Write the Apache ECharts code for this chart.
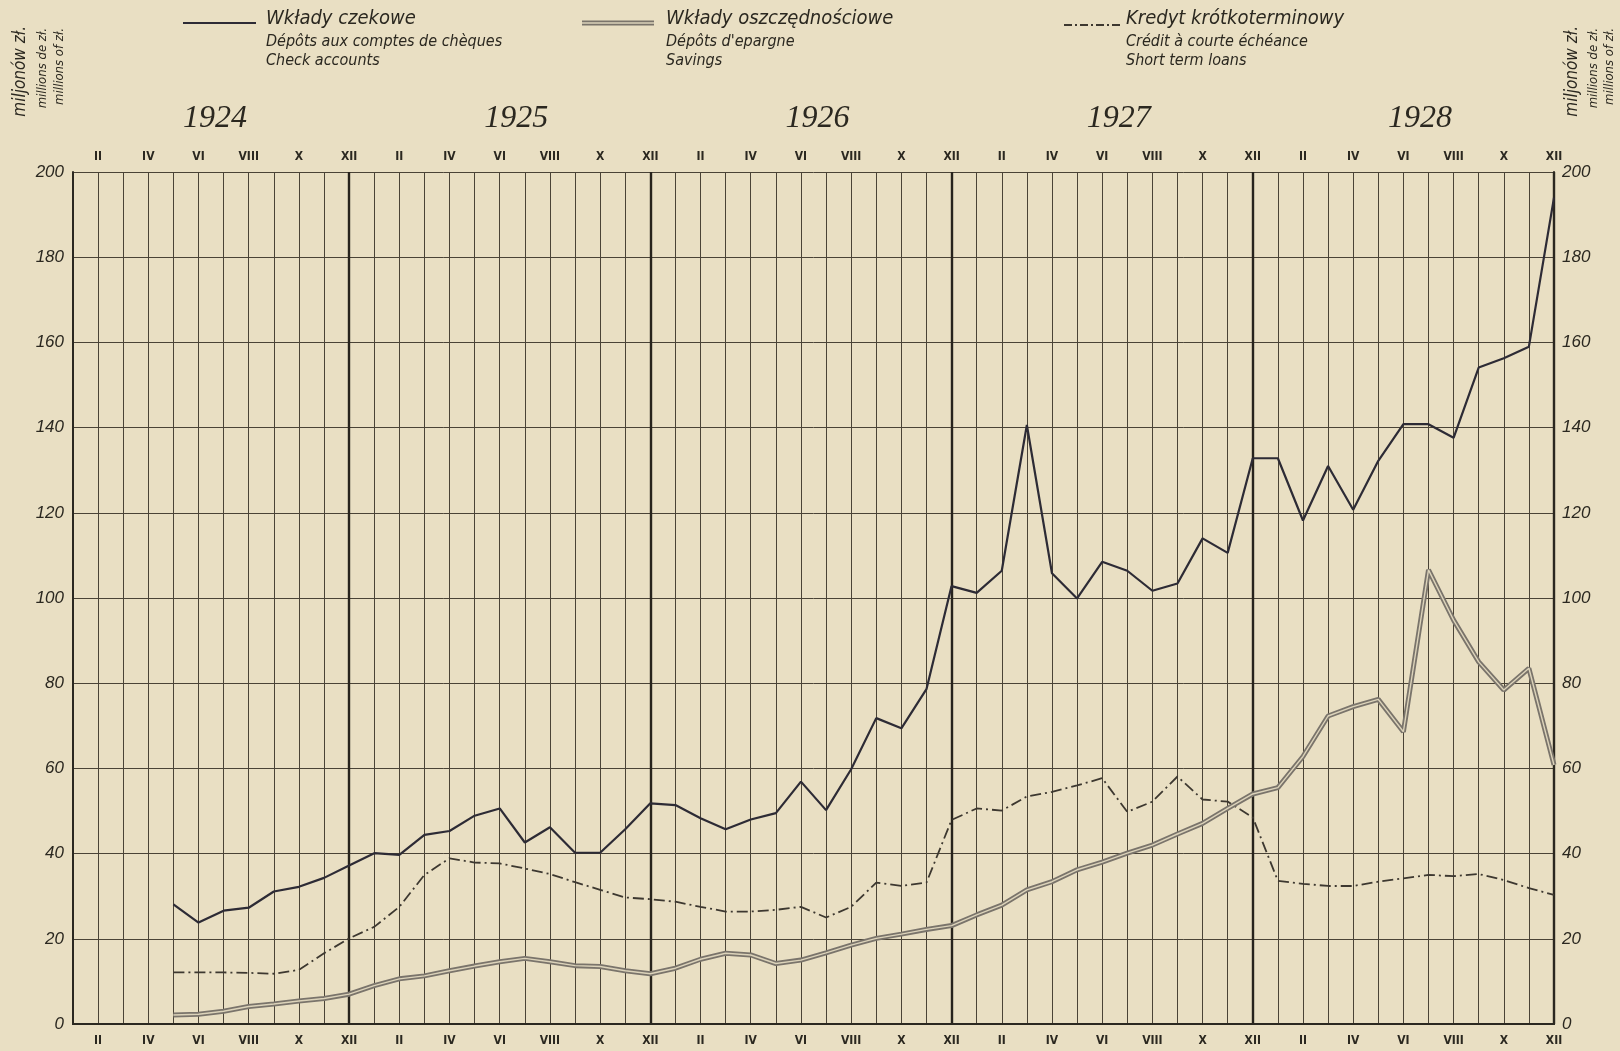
<!DOCTYPE html>
<html>
<head>
<meta charset="utf-8">
<script src="https://cdn.jsdelivr.net/npm/echarts@6/dist/echarts.min.js"></script>
<style>
  html, body { margin: 0; padding: 0; background: #e9dfc3; }
  #chart { width: 1620px; height: 1051px; }
</style>
</head>
<body>
<div id="chart"></div>
<script>
// months of each year, years shown above the grid
const romanMonths = ['I', 'II', 'III', 'IV', 'V', 'VI', 'VII', 'VIII', 'IX', 'X', 'XI', 'XII'];
const years = ['1924', '1925', '1926', '1927', '1928'];
const categories = [];
years.forEach(y => romanMonths.forEach(m => categories.push(y + ' ' + m)));

// millions of zł, Jan 1924 .. Dec 1928
const checkAccounts = [
  null, null, null, null, 28.1, 23.8, 26.6, 27.3, 31.1, 32.2, 34.3, 37.2,
  40.1, 39.7, 44.4, 45.3, 48.9, 50.6, 42.6, 46.2, 40.2, 40.2, 45.7, 51.8,
  51.4, 48.3, 45.7, 48.0, 49.5, 56.9, 50.2, 59.8, 71.8, 69.4, 78.6, 102.8,
  101.2, 106.4, 140.6, 105.8, 99.9, 108.5, 106.4, 101.7, 103.4, 114.0, 110.6, 132.8,
  132.8, 118.2, 131.0, 120.7, 132.2, 140.8, 140.8, 137.6, 154.1, 156.3, 159.0, 194.0
];
const savings = [
  null, null, null, null, 2.1, 2.3, 3.0, 4.1, 4.7, 5.4, 6.0, 7.0,
  9.0, 10.6, 11.3, 12.5, 13.6, 14.6, 15.4, 14.6, 13.7, 13.5, 12.5, 11.8,
  13.1, 15.2, 16.6, 16.2, 14.2, 15.0, 16.7, 18.5, 20.1, 21.1, 22.2, 23.1,
  25.6, 27.9, 31.5, 33.4, 36.2, 38.0, 40.1, 42.0, 44.6, 47.1, 50.6, 54.0,
  55.5, 62.8, 72.3, 74.5, 76.2, 68.6, 106.6, 94.8, 85.0, 78.4, 83.5, 60.8
];
const shortLoans = [
  null, null, null, null, 12.1, 12.1, 12.1, 12.0, 11.8, 12.7, 16.6, 20.1,
  22.8, 27.5, 35.0, 38.9, 37.9, 37.7, 36.5, 35.2, 33.3, 31.5, 29.7, 29.3,
  28.7, 27.5, 26.4, 26.4, 26.8, 27.5, 25.0, 27.5, 33.2, 32.4, 33.2, 47.9,
  50.6, 50.1, 53.4, 54.5, 56.0, 57.7, 49.8, 52.2, 58.1, 52.7, 52.2, 48.5,
  33.6, 32.9, 32.4, 32.4, 33.4, 34.2, 35.0, 34.7, 35.2, 33.8, 31.9, 30.3
];

const ink = '#2b2820';
const gridInk = '#4a4336';
const narrow = "'Liberation Sans Narrow', 'DejaVu Sans Condensed', 'Roboto Condensed', 'Liberation Sans', sans-serif";
const italicSans = "'Liberation Sans', 'DejaVu Sans', sans-serif";

const monthLabel = {
  interval: (i) => i % 2 === 1,
  formatter: (v) => v.split(' ')[1],
  color: ink, fontSize: 12, fontWeight: 'bold', fontFamily: narrow
};

const chart = echarts.init(document.getElementById('chart'));
chart.setOption({
  animation: false,
  backgroundColor: '#e9dfc3',
  grid: { left: 73, right: 66, top: 172, bottom: 27 },
  xAxis: [
    {
      type: 'category', data: categories, boundaryGap: false, position: 'bottom',
      axisLine: { lineStyle: { color: ink, width: 2 } },
      axisTick: { show: false },
      axisLabel: Object.assign({ margin: 11 }, monthLabel),
      splitLine: { show: true, interval: 0, lineStyle: { color: gridInk, width: 1 } }
    },
    {
      type: 'category', data: categories, boundaryGap: false, position: 'top',
      axisLine: { lineStyle: { color: ink, width: 2 } },
      axisTick: { show: false },
      axisLabel: Object.assign({ margin: 9 }, monthLabel),
      splitLine: { show: true, interval: (i) => i % 12 === 11, lineStyle: { color: '#27231c', width: 2.4 } }
    }
  ],
  yAxis: [
    {
      type: 'value', min: 0, max: 200, interval: 20, position: 'left',
      axisLine: { show: true, lineStyle: { color: ink, width: 2 } },
      axisTick: { show: false },
      axisLabel: { margin: 9, color: ink, fontSize: 17, fontStyle: 'italic', fontFamily: italicSans },
      splitLine: { show: true, lineStyle: { color: gridInk, width: 1 } }
    },
    {
      type: 'value', min: 0, max: 200, interval: 20, position: 'right',
      axisLine: { show: true, lineStyle: { color: ink, width: 2 } },
      axisTick: { show: false },
      axisLabel: { margin: 8, color: ink, fontSize: 17, fontStyle: 'italic', fontFamily: italicSans },
      splitLine: { show: false }
    }
  ],
  series: [
    {
      name: 'Kredyt krótkoterminowy', type: 'line', data: shortLoans, symbol: 'none',
      lineStyle: { color: '#3d3830', width: 1.8, type: [11, 4, 2, 4] }
    },
    {
      name: 'Wkłady oszczędnościowe', type: 'line', data: savings, symbol: 'none',
      lineStyle: { color: '#7a746b', width: 5 }
    },
    {
      name: 'Wkłady oszczędnościowe (inner)', type: 'line', data: savings, symbol: 'none',
      lineStyle: { color: '#dcd3ba', width: 1.4 }
    },
    {
      name: 'Wkłady czekowe', type: 'line', data: checkAccounts, symbol: 'none',
      lineStyle: { color: '#2d2b35', width: 2.2 }
    }
  ]
});

// year captions centred over each year's months
const graphic = [];
years.forEach((y, k) => {
  const a = chart.convertToPixel({ xAxisIndex: 0 }, categories[k * 12 + 5]);
  const b = chart.convertToPixel({ xAxisIndex: 0 }, categories[k * 12 + 6]);
  graphic.push({
    type: 'text', x: (a + b) / 2 + 4, y: 119,
    style: { text: y, fill: ink, font: "italic 32px 'Liberation Serif', 'DejaVu Serif', serif", align: 'center', verticalAlign: 'middle' }
  });
});

// legend
const legendItems = [
  { x: 183, w: 73, tx: 266, lines: ['Wkłady czekowe', 'Dépôts aux comptes de chèques', 'Check accounts'], kind: 'solid' },
  { x: 582, w: 72, tx: 666, lines: ['Wkłady oszczędnościowe', "Dépôts d'epargne", 'Savings'], kind: 'double' },
  { x: 1064, w: 58, tx: 1126, lines: ['Kredyt krótkoterminowy', 'Crédit à courte échéance', 'Short term loans'], kind: 'dash' }
];
legendItems.forEach(it => {
  const shape = { x1: it.x, y1: 23, x2: it.x + it.w, y2: 23 };
  if (it.kind === 'solid') {
    graphic.push({ type: 'line', shape, style: { stroke: '#2d2b35', lineWidth: 2.2 } });
  } else if (it.kind === 'double') {
    graphic.push({ type: 'line', shape, style: { stroke: '#7a746b', lineWidth: 5 } });
    graphic.push({ type: 'line', shape, style: { stroke: '#dcd3ba', lineWidth: 1.4 } });
  } else {
    graphic.push({ type: 'line', shape: { x1: it.x, y1: 25, x2: it.x + it.w, y2: 25 }, style: { stroke: '#3d3830', lineWidth: 1.8, lineDash: [8, 3, 2, 3] } });
  }
  graphic.push({ type: 'text', x: it.tx, y: 19, style: { text: it.lines[0], fill: ink, font: "italic 20px " + narrow, verticalAlign: 'middle' } });
  graphic.push({ type: 'text', x: it.tx, y: 42, style: { text: it.lines[1], fill: ink, font: "italic 16px " + narrow, verticalAlign: 'middle' } });
  graphic.push({ type: 'text', x: it.tx, y: 61, style: { text: it.lines[2], fill: ink, font: "italic 16px " + narrow, verticalAlign: 'middle' } });
});

// unit captions, rotated, both sides
[[21, 43, 60], [1573, 1594, 1610]].forEach(xs => {
  graphic.push({ type: 'text', x: xs[0], y: 26, rotation: Math.PI / 2,
    style: { text: 'miljonów zł.', fill: ink, font: "italic 17px " + narrow, align: 'right', verticalAlign: 'middle' } });
  graphic.push({ type: 'text', x: xs[1], y: 28, rotation: Math.PI / 2,
    style: { text: 'millions de zł.', fill: ink, font: "italic 13px " + narrow, align: 'right', verticalAlign: 'middle' } });
  graphic.push({ type: 'text', x: xs[2], y: 28, rotation: Math.PI / 2,
    style: { text: 'millions of zł.', fill: ink, font: "italic 13px " + narrow, align: 'right', verticalAlign: 'middle' } });
});

chart.setOption({ graphic });
</script>
</body>
</html>
